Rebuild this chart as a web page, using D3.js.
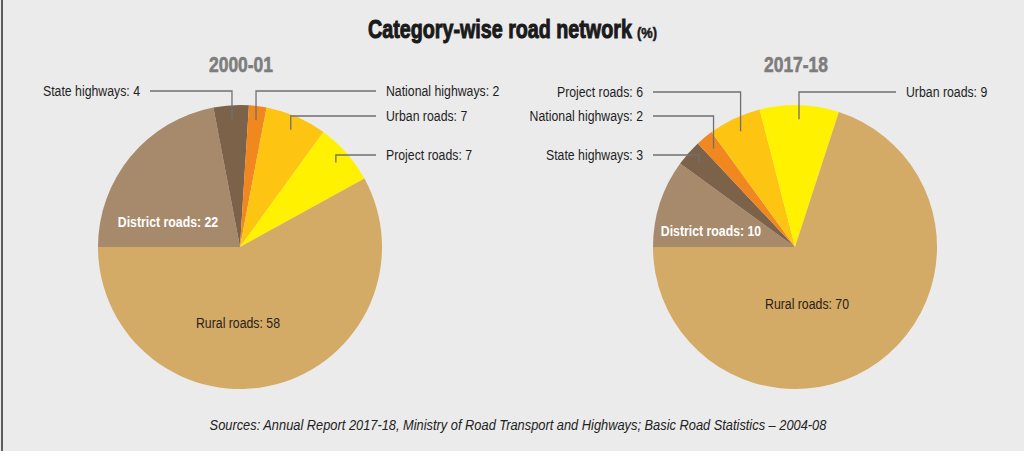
<!DOCTYPE html>
<html>
<style>
body { margin: 0; background: #ebebeb; }
text { font-family: "Liberation Sans", Arial, Helvetica, sans-serif; }
</style>
<body>
<script src="https://d3js.org/d3.v7.min.js"></script>
<script>
// data, in drawing order going clockwise from 9 o'clock
var years = ["2000-01", "2017-18"];
var cats2000 = ["District roads", "State highways", "National highways", "Urban roads", "Project roads", "Rural roads"];
var vals2000 = [22, 4, 2, 7, 7, 58];
var cats2017 = ["District roads", "State highways", "National highways", "Project roads", "Urban roads", "Rural roads"];
var vals2017 = [10, 3, 2, 6, 9, 70];

// colours go by slice position, not by category
var sliceColors = ["#a78a6b", "#7b6249", "#f0871f", "#fdc412", "#fff100", "#d3aa66"];

// label placement: side of leader line (-1 left, 1 right, 0 inside) and line level
var side2000 = [0, -1, 1, 1, 1, 0];
var level2000 = [0, 91, 91, 116, 155, 0];
var side2017 = [0, -1, -1, -1, 1, 0];
var level2017 = [0, 155, 116, 92, 92, 0];

var W = 1024, H = 451, R = 142;
var NARROW = 0.82; // fake a condensed face

var svg = d3.select("body").append("svg")
  .attr("width", W)
  .attr("height", H);

// squeeze text horizontally around its x anchor
function condense(sel, width) {
  sel.each(function() {
    var w0 = this.getComputedTextLength();
    var k = width ? width / w0 : NARROW;
    var x = +this.getAttribute("x");
    d3.select(this).attr("transform", "translate(" + (x * (1 - k)) + ",0) scale(" + k + ",1)");
  });
  return sel;
}

svg.append("rect").attr("width", W).attr("height", H).attr("fill", "#ebebeb");
svg.append("line").attr("x1", 2).attr("x2", 2).attr("y1", 0).attr("y2", H)
  .attr("stroke", "#5c5c5c").attr("stroke-width", 2);

condense(svg.append("text")
  .attr("x", 368).attr("y", 38)
  .attr("fill", "#1a1a1a")
  .attr("stroke", "#1a1a1a").attr("stroke-width", 1)
  .style("font-weight", "bold")
  .style("font-size", "25px")
  .text("Category-wise road network"), 264);
condense(svg.append("text")
  .attr("x", 637).attr("y", 38)
  .attr("fill", "#1a1a1a")
  .attr("stroke", "#1a1a1a").attr("stroke-width", 0.5)
  .style("font-weight", "bold")
  .style("font-size", "14px")
  .text("(%)"), 20);

condense(svg.append("text")
  .attr("x", 518).attr("y", 430)
  .attr("text-anchor", "middle")
  .attr("fill", "#222")
  .style("font-style", "italic")
  .style("font-size", "14.5px")
  .text("Sources: Annual Report 2017-18, Ministry of Road Transport and Highways;  Basic Road Statistics \u2013 2004-08"), 617);

var pie = d3.pie().sort(null).startAngle(-Math.PI / 2).endAngle(1.5 * Math.PI);
var arc = d3.arc().innerRadius(0).outerRadius(R);
var anchorArc = d3.arc().innerRadius(R * 0.9).outerRadius(R * 0.9);

function drawPie(cx, cy, year, cats, vals, sides, levels, leftEnd, rightStart, distPos, ruralPos) {
  var g = svg.append("g").attr("transform", "translate(" + cx + "," + cy + ")");

  condense(g.append("text")
    .attr("x", 1).attr("y", -175)
    .attr("text-anchor", "middle")
    .attr("fill", "#7d7d7d")
    .attr("stroke", "#7d7d7d").attr("stroke-width", 0.6)
    .style("font-weight", "bold")
    .style("font-size", "22px")
    .text(year), 64);

  var arcs = pie(vals);

  g.selectAll("path.slice")
    .data(arcs)
    .enter().append("path")
    .attr("class", "slice")
    .attr("fill", function(d, i) { return sliceColors[i]; })
    .attr("d", arc);

  arcs.forEach(function(d, i) {
    if (sides[i] === 0) return;
    var a = anchorArc.centroid(d);
    var ly = levels[i] - cy;
    var tx = sides[i] < 0 ? leftEnd : rightStart;
    var lineStart = sides[i] < 0 ? tx + 10 : tx - 10;
    g.append("path")
      .attr("fill", "none")
      .attr("stroke", "#707070")
      .attr("stroke-width", 1.3)
      .attr("d", "M" + lineStart + "," + ly + "H" + a[0] + "V" + a[1]);
    condense(g.append("text")
      .attr("x", tx).attr("y", ly)
      .attr("dy", "0.35em")
      .attr("text-anchor", sides[i] < 0 ? "end" : "start")
      .attr("fill", "#1e1e1e")
      .style("font-size", "15px")
      .text(cats[i] + ": " + vals[i]));
  });

  // district label inside (white, bold)
  condense(g.append("text")
    .attr("x", distPos[0]).attr("y", distPos[1])
    .attr("dy", "0.35em")
    .attr("text-anchor", "middle")
    .attr("fill", "#ffffff")
    .style("font-weight", "bold")
    .style("font-size", "15px")
    .text(cats[0] + ": " + vals[0]));

  // rural label inside
  var r = cats.length - 1;
  condense(g.append("text")
    .attr("x", ruralPos[0]).attr("y", ruralPos[1])
    .attr("dy", "0.35em")
    .attr("text-anchor", "middle")
    .attr("fill", "#2a2116")
    .style("font-size", "15px")
    .text(cats[r] + ": " + vals[r]));
}

drawPie(240, 247, years[0], cats2000, vals2000, side2000, level2000, -100, 146, [-72, -25], [-2, 76]);
drawPie(795, 247, years[1], cats2017, vals2017, side2017, level2017, -152, 111, [-84, -16], [12, 57]);
</script>
</body>
</html>
